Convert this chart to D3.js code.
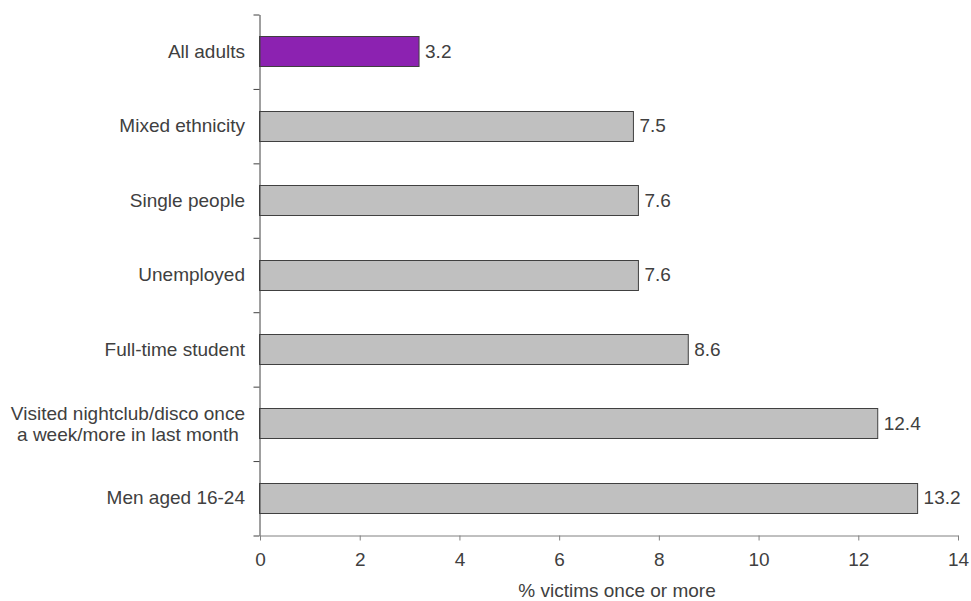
<!DOCTYPE html>
<html>
<head>
<meta charset="utf-8">
<script src="https://cdn.jsdelivr.net/npm/d3@7"></script>
<style>
  html, body { margin: 0; padding: 0; background: #fff; }
  svg { display: block; }
  text { font-family: "Liberation Sans", Arial, sans-serif; fill: #404040; }
</style>
</head>
<body>
<svg id="chart" width="971" height="601"></svg>
<script>
const categories = [
  ["All adults"],
  ["Mixed ethnicity"],
  ["Single people"],
  ["Unemployed"],
  ["Full-time student"],
  ["Visited nightclub/disco once", "a week/more in last month"],
  ["Men aged 16-24"]
];
const values = [3.2, 7.5, 7.6, 7.6, 8.6, 12.4, 13.2];
const valueLabels = ["3.2", "7.5", "7.6", "7.6", "8.6", "12.4", "13.2"];
const highlight = [true, false, false, false, false, false, false];
const xTicks = [0, 2, 4, 6, 8, 10, 12, 14];
const xTitle = "% victims once or more";

const svg = d3.select("#chart");
const plotLeft = 259.5, plotRight = 957.5, plotTop = 14, plotBottom = 535;
const fontSize = 19;

const x = d3.scaleLinear().domain([0, 14]).range([plotLeft, plotRight]);
const idx = d3.range(categories.length);
const y = d3.scaleBand().domain(idx).range([plotTop, plotBottom]).padding(0);
const yb = d3.scaleLinear().domain([0, categories.length]).range([plotTop, plotBottom]);
const barH = y.bandwidth() * 0.4;

// Bars
svg.append("g").selectAll("rect").data(idx).join("rect")
  .attr("x", x(0))
  .attr("y", i => Math.round(y(i) + (y.bandwidth() - barH) / 2) + 0.5)
  .attr("width", i => x(values[i]) - x(0))
  .attr("height", Math.round(barH))
  .attr("fill", i => highlight[i] ? "#8c22b1" : "#c0c0c0")
  .attr("stroke", "#404040")
  .attr("stroke-width", 1);

// Value labels
svg.append("g").selectAll("text").data(idx).join("text")
  .attr("x", i => x(values[i]) + 6)
  .attr("y", i => y(i) + y.bandwidth() / 2)
  .attr("dy", "0.35em")
  .attr("font-size", fontSize)
  .text(i => valueLabels[i]);

// Y axis (band boundary ticks)
const yAxis = d3.axisLeft(yb).tickValues(d3.range(categories.length + 1))
  .tickFormat("").tickSize(6).tickSizeOuter(0);
const gy = svg.append("g").attr("transform", `translate(${plotLeft},0.5)`).call(yAxis);
gy.selectAll("path, line").attr("stroke", "#404040");

// X axis
const xAxis = d3.axisBottom(x).tickValues(xTicks).tickSize(5).tickSizeOuter(0).tickPadding(12);
const gx = svg.append("g").attr("transform", `translate(0.5,${plotBottom + 0.5})`).call(xAxis);
gx.selectAll("path, line").attr("stroke", "#808080");
gx.selectAll("text").attr("font-size", fontSize).attr("font-family", null).style("fill", "#404040");

// Category labels
const labelRight = 245;
const lg = svg.append("g");
idx.forEach(i => {
  const lines = categories[i];
  const cy = y(i) + y.bandwidth() / 2;
  if (lines.length === 1) {
    lg.append("text").attr("x", labelRight).attr("y", cy).attr("dy", "0.35em")
      .attr("text-anchor", "end").attr("font-size", fontSize).text(lines[0]);
  } else {
    const widths = lines.map(l => {
      const tt = lg.append("text").attr("font-size", fontSize).text(l);
      const w = tt.node().getComputedTextLength();
      tt.remove();
      return w;
    });
    const maxW = d3.max(widths);
    const cx = labelRight - maxW / 2;
    const lh = 21;
    const t = lg.append("text").attr("font-size", fontSize).attr("text-anchor", "middle");
    lines.forEach((l, k) => {
      t.append("tspan").attr("x", cx)
        .attr("y", cy - lh * (lines.length - 1) / 2 + k * lh)
        .attr("dy", "0.35em").text(l);
    });
  }
});

// X title
svg.append("text").attr("x", 617).attr("y", 597)
  .attr("text-anchor", "middle").attr("font-size", fontSize).text(xTitle);
</script>
</body>
</html>
